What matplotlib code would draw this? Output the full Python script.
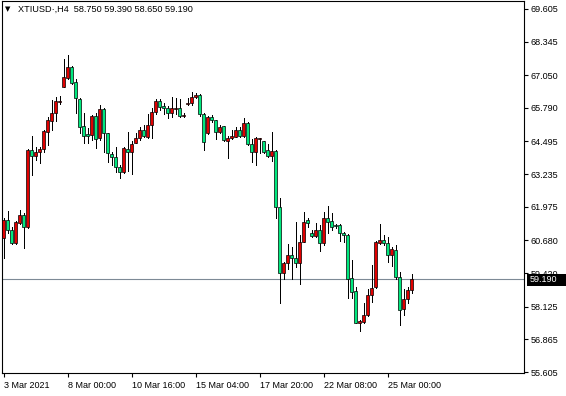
import matplotlib

matplotlib.use("Agg")
import matplotlib.pyplot as plt  # noqa: E402
from matplotlib.patches import Rectangle  # noqa: E402

# XTIUSD H4 candles (oldest first)
opens = [60.77, 61.47, 61.08, 60.58, 61.35, 61.66, 61.20, 64.17, 63.94, 64.09,
         64.21, 64.86, 65.29, 65.59, 66.02, 66.60, 66.94, 67.37, 66.79, 66.13,
         65.09, 64.78, 64.75, 65.48, 64.63, 65.75, 64.82, 64.01, 63.90, 63.51,
         63.32, 64.21, 64.09, 64.44, 64.63, 64.94, 64.67, 65.13, 65.63, 66.06,
         65.86, 65.79, 65.59, 65.75, 65.79, 65.46, 65.94, 65.98, 66.21, 66.29,
         65.56, 64.82, 65.44, 65.32, 64.86, 65.09, 64.51, 64.63, 64.67, 64.94,
         64.71, 65.21, 64.40, 64.09, 64.59, 64.51, 64.17, 63.94, 64.13, 61.97,
         59.42, 59.81, 60.12, 60.00, 59.81, 60.62, 61.47, 60.97, 60.85, 61.08,
         60.58, 61.54, 61.43, 61.27, 61.27, 60.97, 60.89, 59.23, 58.73, 57.50,
         57.53, 57.80, 58.57, 58.88, 60.58, 60.70, 60.58, 60.12, 60.31, 59.27,
         58.04, 58.42, 58.75]
highs = [61.54, 61.81, 61.20, 61.41, 61.85, 61.74, 64.21, 64.71, 64.28, 64.28,
         64.92, 65.44, 66.10, 66.21, 66.25, 67.68, 67.83, 67.41, 66.91, 66.17,
         65.59, 65.02, 65.50, 65.59, 65.90, 65.77, 64.84, 64.09, 64.28, 63.59,
         64.28, 64.86, 64.51, 64.82, 65.05, 65.13, 65.56, 65.79, 66.13, 66.13,
         65.98, 65.86, 66.21, 66.17, 66.13, 65.59, 66.17, 66.40, 66.37, 66.33,
         65.59, 65.46, 65.52, 65.34, 65.13, 65.11, 64.71, 64.94, 65.05, 65.05,
         65.40, 65.23, 64.59, 64.65, 64.63, 64.53, 64.40, 64.86, 64.17, 62.32,
         59.85, 60.54, 60.43, 61.39, 60.89, 61.78, 61.54, 61.08, 61.35, 61.27,
         61.78, 62.01, 61.74, 61.31, 61.31, 61.00, 60.93, 59.93, 58.88, 57.61,
         58.27, 58.81, 59.73, 60.64, 61.31, 60.89, 60.81, 60.43, 60.50, 59.46,
         58.81, 58.88, 59.39]
lows = [60.00, 60.97, 60.55, 60.55, 61.33, 60.39, 61.16, 63.20, 63.78, 63.67,
        64.09, 64.36, 64.94, 65.29, 65.94, 66.58, 66.92, 66.73, 65.59, 64.82,
        64.44, 64.44, 64.55, 64.24, 64.55, 64.09, 63.70, 63.59, 63.32, 63.09,
        63.28, 63.36, 63.24, 64.42, 64.55, 64.67, 64.63, 64.63, 65.56, 65.71,
        65.56, 65.40, 65.44, 65.56, 65.44, 65.44, 65.90, 65.90, 66.17, 65.48,
        64.17, 64.80, 65.25, 64.59, 64.82, 64.53, 63.86, 64.59, 64.65, 64.67,
        64.67, 64.36, 63.70, 63.59, 64.05, 64.05, 63.90, 63.74, 61.54, 58.27,
        59.19, 59.58, 59.19, 59.66, 59.00, 60.60, 61.20, 60.81, 60.81, 60.27,
        60.50, 60.97, 61.08, 61.16, 60.66, 60.62, 58.46, 58.46, 57.48, 57.19,
        57.50, 57.78, 58.31, 58.86, 60.56, 60.50, 59.85, 59.69, 59.19, 57.42,
        57.80, 58.27, 58.65]
closes = [61.47, 61.08, 60.58, 61.39, 61.66, 61.20, 64.17, 63.94, 64.09, 64.21,
          64.90, 65.32, 65.59, 66.06, 66.03, 66.98, 67.37, 66.75, 66.17, 65.05,
          64.71, 64.71, 65.48, 64.59, 65.75, 64.82, 64.05, 63.90, 63.51, 63.32,
          64.24, 64.09, 64.40, 64.63, 64.94, 64.71, 65.13, 65.63, 66.06, 65.83,
          65.79, 65.59, 65.79, 65.76, 65.48, 65.50, 65.95, 66.21, 66.29, 65.56,
          64.48, 65.44, 65.32, 64.86, 65.05, 64.55, 64.63, 64.71, 64.94, 64.71,
          65.21, 64.40, 64.09, 64.63, 64.60, 64.09, 63.94, 64.13, 61.97, 59.42,
          59.81, 60.12, 60.00, 59.81, 60.62, 61.39, 61.35, 60.85, 61.08, 60.58,
          61.54, 61.39, 61.20, 61.24, 60.97, 60.89, 59.19, 58.69, 57.50, 57.57,
          57.80, 58.57, 58.85, 60.62, 60.70, 60.58, 60.12, 60.35, 59.27, 58.00,
          58.42, 58.77, 59.19]

time_tick_bars = [0, 16, 32, 48, 64, 80, 96]
time_tick_labels = ["3 Mar 2021", "8 Mar 00:00", "10 Mar 16:00", "15 Mar 04:00",
                    "17 Mar 20:00", "22 Mar 08:00", "25 Mar 00:00"]
price_ticks = [55.605, 56.865, 58.125, 59.420, 60.680, 61.975,
               63.235, 64.495, 65.790, 67.050, 68.345, 69.605]
last_price = 59.19
header = "XTIUSD\u00b7,H4  58.750 59.390 58.650 59.190"

UP = "#e00000"
DOWN = "#00e87e"
W, H = 566, 396
FONT = "Liberation Sans"
YLO, YHI = 55.567, 69.913
AX_H = 372  # axes height in px
PX = (YHI - YLO) / AX_H  # price per pixel

fig = plt.figure(figsize=(W / 100, H / 100), dpi=100)
ax = fig.add_axes([2 / W, 23 / H, 522 / W, AX_H / H])

x = list(range(len(opens)))
colors = [UP if c >= o else DOWN for o, c in zip(opens, closes)]
bottoms = [min(o, c) for o, c in zip(opens, closes)]
heights = [max(abs(c - o), PX) for o, c in zip(opens, closes)]

ax.vlines(x, lows, highs, colors="black", linewidth=0.72, antialiased=False, zorder=2)
ax.bar(x, heights, bottom=bottoms, width=0.66, color=colors, edgecolor="black",
       linewidth=0.5, zorder=3)

ax.axhline(last_price, color="#7d8a96", linewidth=0.8, zorder=1)

ax.set_xlim(-0.375, 130.125)
ax.set_ylim(YLO, YHI)

for sp in ax.spines.values():
    sp.set_linewidth(0.8)
    sp.set_color("black")

ax.yaxis.tick_right()
ax.set_yticks(price_ticks)
ax.set_yticklabels([f"{v:.3f}" for v in price_ticks])
ax.tick_params(axis="y", direction="out", length=3, width=0.8, pad=2, labelsize=6.5)
ax.set_xticks(time_tick_bars)
ax.set_xticklabels(time_tick_labels)
ax.tick_params(axis="x", direction="out", length=3, width=0.8, pad=2.5, labelsize=6.5)
for lab in ax.get_xticklabels():
    lab.set_ha("left")
    lab.set_fontfamily(FONT)
for lab in ax.get_yticklabels():
    lab.set_fontfamily(FONT)

# current price marker on the axis
fig.patches.append(Rectangle((527 / W, (H - 286) / H), 39 / W, 12 / H,
                             transform=fig.transFigure, facecolor="black",
                             edgecolor="none", zorder=5))
fig.text(530 / W, (H - 279.5) / H, f"{last_price:.3f}", color="white",
         fontsize=6.5, family=FONT, va="center", ha="left", zorder=6)

# header
fig.text(5 / W, (H - 9) / H, "\u25bc", fontsize=5, va="center", ha="left")
fig.text(18 / W, (H - 9) / H, header, fontsize=6.6, family=FONT, va="center", ha="left")

fig.savefig("out.png", dpi=100)
